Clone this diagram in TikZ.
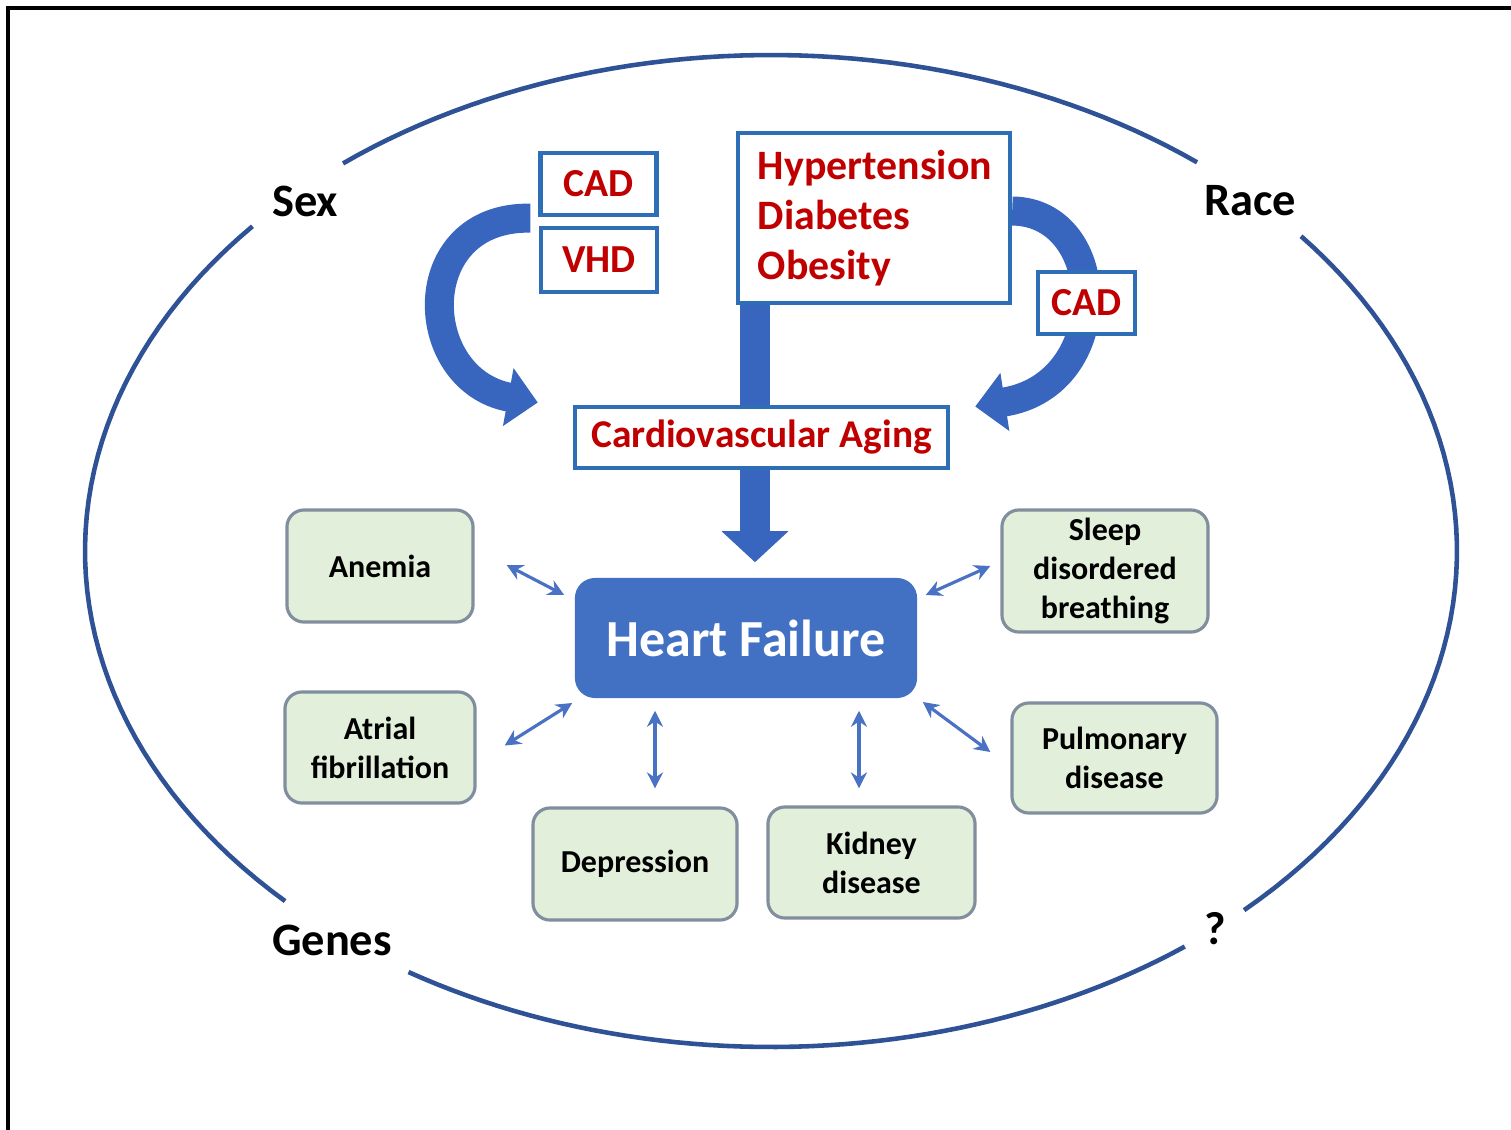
\documentclass[tikz,border=0pt]{standalone}
\usepackage{fontspec}
\setmainfont{Carlito}
\usetikzlibrary{arrows.meta,calc}
\definecolor{hfblue}{RGB}{66,113,196}
\definecolor{fatblue}{RGB}{56,101,190}
\definecolor{boxblue}{RGB}{46,110,182}
\definecolor{riskred}{RGB}{192,0,0}
\definecolor{ringblue}{RGB}{47,82,150}
\definecolor{softgreen}{RGB}{226,239,218}
\definecolor{softedge}{RGB}{128,142,158}
\definecolor{linkblue}{RGB}{74,114,196}

\begin{document}
\begin{tikzpicture}[x=0.01cm,y=-0.01cm,>={Stealth[length=0.16cm,width=0.16cm]},
  redbox/.style={draw=boxblue,line width=1.2pt,fill=white,text=riskred,inner sep=0pt,font=\bfseries\fontsize{11.9}{14.2}\selectfont},
  softbox/.style={draw=softedge,line width=0.9pt,fill=softgreen,rounded corners=0.17cm,align=center,inner sep=0pt,font=\bfseries\fontsize{9.1}{11.1}\selectfont},
  hfbox/.style={fill=hfblue,rounded corners=0.2cm,text=white,inner sep=0pt,font=\bfseries\fontsize{14.8}{17}\selectfont},
  fat/.style={draw=fatblue,line width=0.29cm},
  link/.style={draw=linkblue,line width=0.9pt,<->},
  ring/.style={draw=ringblue,line width=1.3pt},
  outer/.style={inner sep=0pt,font=\bfseries\fontsize{13.2}{15}\selectfont}]
\useasboundingbox (0,0) rectangle (1511,1130);
\draw[line width=1pt] (8,1130) -- (8,8) -- (1511,8);

% outer ring, broken at the four labels
\foreach \a/\b in {231.4/308.4,320.6/406.4,52.9/121.9,135.1/220.9}
  \draw[ring] plot[domain=\a:\b,samples=50] ({771+686*cos(\x)},{551+496*sin(\x)});
\node[outer] (sex) at (305,201) {Sex};
\node[outer] (race) at (1250,201) {Race};
\node[outer] (genes) at (332,940) {Genes};
\node[outer] (unknown) at (1215,929) {?};

% risk factors
\node[redbox,minimum width=1.16cm,minimum height=0.62cm,font=\bfseries\fontsize{11.3}{13}\selectfont] (cad) at (598.5,184) {CAD};
\node[redbox,minimum width=1.16cm,minimum height=0.64cm,font=\bfseries\fontsize{11.3}{13}\selectfont] (vhd) at (599,260) {VHD};
\node[redbox,minimum width=2.72cm,minimum height=1.7cm,text width=2.32cm,align=left] (risk) at (874,218) {Hypertension\\Diabetes\\Obesity};
\node[redbox,minimum width=3.73cm,minimum height=0.61cm,font=\bfseries\fontsize{11.2}{13}\selectfont] (aging) at (761.5,437.5) {Cardiovascular Aging};
\node[hfbox,minimum width=3.42cm,minimum height=1.2cm] (hf) at (746,638) {Heart Failure};

% thick arrows
\coordinate (shaft) at (755,0);
\draw[fat] (risk.south -| shaft) -- (aging.north -| shaft);
\draw[fat,-{Triangle[width=0.65cm,length=0.31cm]},shorten >=0.15cm] (aging.south -| shaft) -- (hf.north -| shaft);
\draw[fat,-{Triangle[width=0.57cm,length=0.3cm]}] ($(cad.south west)+(-8,1)$) .. controls (410,216) and (415,380) .. ($(aging.west)+(-35,-35)$);
\draw[fat,-{Triangle[width=0.57cm,length=0.3cm]}] ($(risk.east)+(0,-7)$) .. controls (1110,212) and (1115,385) .. ($(aging.east)+(25,-31)$);
\node[redbox,minimum width=0.97cm,minimum height=0.62cm,font=\bfseries\fontsize{11.3}{13}\selectfont] (cad2) at (1086.5,303) {CAD};

% comorbidities
\node[softbox,minimum width=1.86cm,minimum height=1.12cm] (anemia) at (380,566) {Anemia};
\node[softbox,minimum width=1.9cm,minimum height=1.11cm] (afib) at (380,747.5) {Atrial\\fibrillation};
\node[softbox,minimum width=2.06cm,minimum height=1.22cm] (sleep) at (1105,571) {Sleep\\disordered\\breathing};
\node[softbox,minimum width=2.05cm,minimum height=1.1cm] (lung) at (1114.5,758) {Pulmonary\\disease};
\node[softbox,minimum width=2.04cm,minimum height=1.12cm] (depr) at (635,864) {Depression};
\node[softbox,minimum width=2.07cm,minimum height=1.11cm] (kidney) at (871.5,862.5) {Kidney\\disease};

\draw[link] ($(anemia.east)+(32,-1)$) -- ($(hf.west)+(-10,-43)$);
\draw[link] ($(afib.east)+(28,-2)$) -- ($(hf.west)+(-2,65)$);
\draw[link] ($(hf.east)+(8,-43)$) -- ($(sleep.west)+(-10,-5)$);
\draw[link] ($(hf.east)+(5,64)$) -- ($(lung.west)+(-20,-6)$);
\draw[link] ($(hf.south)+(-91,12)$) -- ($(depr.north)+(20,-18)$);
\draw[link] ($(hf.south)+(113,12)$) -- ($(kidney.north)+(-12.5,-17)$);
\end{tikzpicture}
\end{document}
